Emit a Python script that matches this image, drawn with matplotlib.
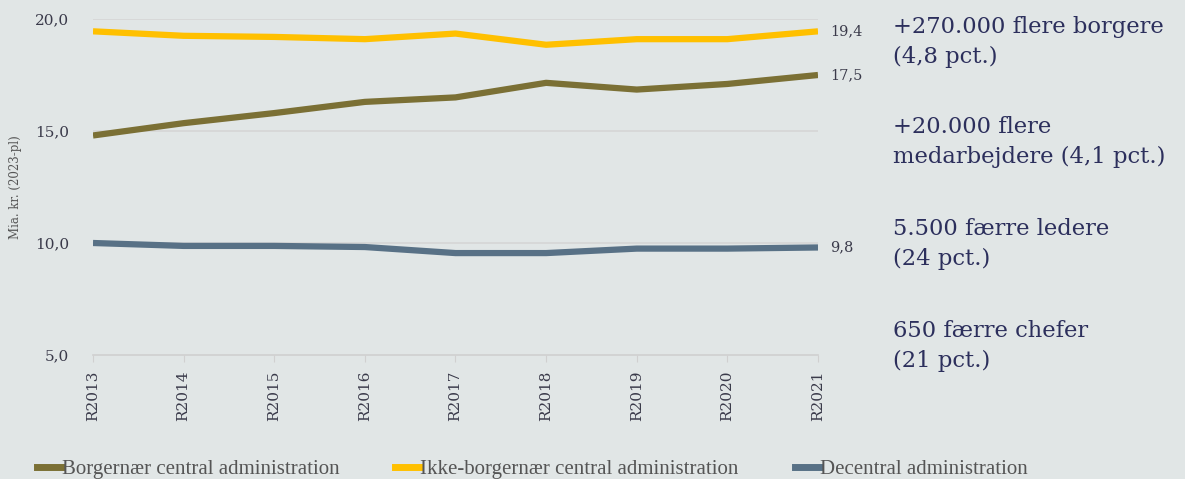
import matplotlib
matplotlib.use("Agg")
import matplotlib.pyplot as plt
from matplotlib.lines import Line2D

years = ["R2013", "R2014", "R2015", "R2016", "R2017", "R2018", "R2019", "R2020", "R2021"]
borgernaer = [14.8, 15.35, 15.8, 16.3, 16.5, 17.15, 16.85, 17.1, 17.5]
ikke_borgernaer = [19.45, 19.25, 19.2, 19.1, 19.35, 18.85, 19.1, 19.1, 19.45]
decentral = [10.0, 9.87, 9.87, 9.82, 9.55, 9.55, 9.75, 9.75, 9.8]
end_labels = ["17,5", "19,4", "9,8"]
series_names = ["Borgernær central administration",
                "Ikke-borgernær central administration",
                "Decentral administration"]
colors = ["#7b7035", "#ffc000", "#587186"]
yticks = [5.0, 10.0, 15.0, 20.0]
annotations = ["+270.000 flere borgere\n(4,8 pct.)",
               "+20.000 flere\nmedarbejdere (4,1 pct.)",
               "5.500 færre ledere\n(24 pct.)",
               "650 færre chefer\n(21 pct.)"]

bg = "#e1e6e6"
txt = "#2c2f5c"
tick_c = "#3a3a4a"
plt.rcParams['font.family'] = ['DejaVu Serif', 'Liberation Serif']

fig = plt.figure(figsize=(11.85, 4.79), dpi=100, facecolor=bg)
ax = fig.add_axes([93/1185, 1 - 355/479, (818-93)/1185, (355-19)/479])
ax.set_facecolor(bg)

x = list(range(len(years)))
for vals, c in zip([borgernaer, ikke_borgernaer, decentral], colors):
    ax.plot(x, vals, color=c, lw=4.5, solid_capstyle='butt', zorder=3)

for vals, lab in zip([borgernaer, ikke_borgernaer, decentral], end_labels):
    ax.annotate(lab, (x[-1], vals[-1]), xytext=(9, 0), textcoords='offset points',
                va='center', ha='left', fontsize=10.5, color=tick_c)

ax.set_xlim(0, len(years) - 1)
ax.set_ylim(5, 20)
ax.set_yticks(yticks)
ax.set_yticklabels([f"{v:.1f}".replace('.', ',') for v in yticks], fontsize=11, color=tick_c)
ax.set_xticks(x)
ax.set_xticklabels(years, rotation=90, fontsize=11, color=tick_c)
for v in yticks[1:]:
    ax.axhline(v, color="#d6d6d6", lw=1.2, zorder=1)
for s in ["top", "right", "left"]:
    ax.spines[s].set_visible(False)
ax.spines["bottom"].set_color("#d0d0d0")
ax.spines["bottom"].set_linewidth(1.2)
ax.tick_params(axis='y', length=0, pad=17)
ax.tick_params(axis='x', length=5, color="#d0d0d0", pad=6)
ax.set_ylabel("Mia. kr. (2023-pl)", fontsize=8.5, color="#555555")
ax.yaxis.set_label_coords(-0.098, 0.5)

ys = [0.912, 0.703, 0.49, 0.277]
for t, yy in zip(annotations, ys):
    fig.text(893/1185, yy, t, fontsize=16.3, color=txt, va='center', ha='left', linespacing=1.45)

handles = [Line2D([0], [0], color=c, lw=5) for c in colors]
fig.legend(handles, series_names, loc='lower left', bbox_to_anchor=(0.015, -0.04),
           ncol=3, frameon=False, prop={'family': 'Liberation Serif', 'size': 15},
           handlelength=1.2, handletextpad=0.0, columnspacing=2.7, labelcolor="#555555")

fig.savefig("out.png", dpi=100, facecolor=bg)
